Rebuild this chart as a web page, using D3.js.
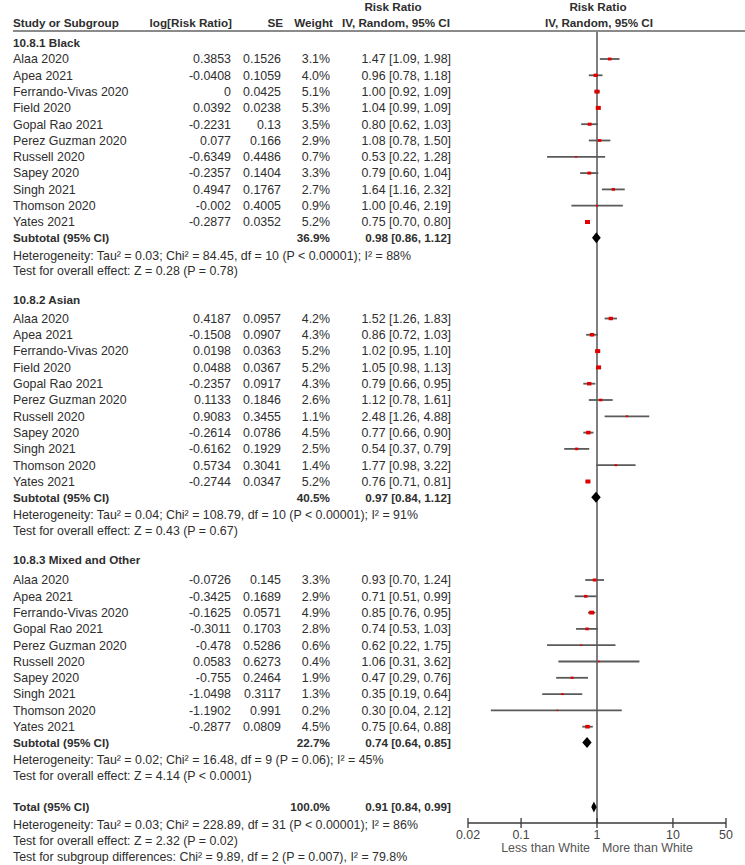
<!DOCTYPE html>
<html><head><meta charset="utf-8">
<script src="https://cdn.jsdelivr.net/npm/d3@7/dist/d3.min.js"></script>
<style>
html,body{margin:0;padding:0;background:#fff;}
svg text{font-family:"Liberation Sans",Arial,sans-serif;font-size:12.4px;fill:#2e2e2e;}
svg text.b{font-weight:bold;font-size:11.7px;}
</style></head>
<body>
<script>
// ---------- DATA ----------
const groupTitles = ["10.8.1 Black", "10.8.2 Asian", "10.8.3 Mixed and Other"];

const blackStudies = ["Alaa 2020","Apea 2021","Ferrando-Vivas 2020","Field 2020","Gopal Rao 2021","Perez Guzman 2020","Russell 2020","Sapey 2020","Singh 2021","Thomson 2020","Yates 2021"];
const blackLogRR = [0.3853,-0.0408,0,0.0392,-0.2231,0.077,-0.6349,-0.2357,0.4947,-0.002,-0.2877];
const blackSE = [0.1526,0.1059,0.0425,0.0238,0.13,0.166,0.4486,0.1404,0.1767,0.4005,0.0352];
const blackWeight = [3.1,4.0,5.1,5.3,3.5,2.9,0.7,3.3,2.7,0.9,5.2];
const blackRR = [1.47,0.96,1.00,1.04,0.80,1.08,0.53,0.79,1.64,1.00,0.75];
const blackLo = [1.09,0.78,0.92,0.99,0.62,0.78,0.22,0.60,1.16,0.46,0.70];
const blackHi = [1.98,1.18,1.09,1.09,1.03,1.50,1.28,1.04,2.32,2.19,0.80];

const asianStudies = ["Alaa 2020","Apea 2021","Ferrando-Vivas 2020","Field 2020","Gopal Rao 2021","Perez Guzman 2020","Russell 2020","Sapey 2020","Singh 2021","Thomson 2020","Yates 2021"];
const asianLogRR = [0.4187,-0.1508,0.0198,0.0488,-0.2357,0.1133,0.9083,-0.2614,-0.6162,0.5734,-0.2744];
const asianSE = [0.0957,0.0907,0.0363,0.0367,0.0917,0.1846,0.3455,0.0786,0.1929,0.3041,0.0347];
const asianWeight = [4.2,4.3,5.2,5.2,4.3,2.6,1.1,4.5,2.5,1.4,5.2];
const asianRR = [1.52,0.86,1.02,1.05,0.79,1.12,2.48,0.77,0.54,1.77,0.76];
const asianLo = [1.26,0.72,0.95,0.98,0.66,0.78,1.26,0.66,0.37,0.98,0.71];
const asianHi = [1.83,1.03,1.10,1.13,0.95,1.61,4.88,0.90,0.79,3.22,0.81];

const mixedStudies = ["Alaa 2020","Apea 2021","Ferrando-Vivas 2020","Gopal Rao 2021","Perez Guzman 2020","Russell 2020","Sapey 2020","Singh 2021","Thomson 2020","Yates 2021"];
const mixedLogRR = [-0.0726,-0.3425,-0.1625,-0.3011,-0.478,0.0583,-0.755,-1.0498,-1.1902,-0.2877];
const mixedSE = [0.145,0.1689,0.0571,0.1703,0.5286,0.6273,0.2464,0.3117,0.991,0.0809];
const mixedWeight = [3.3,2.9,4.9,2.8,0.6,0.4,1.9,1.3,0.2,4.5];
const mixedRR = [0.93,0.71,0.85,0.74,0.62,1.06,0.47,0.35,0.30,0.75];
const mixedLo = [0.70,0.51,0.76,0.53,0.22,0.31,0.29,0.19,0.04,0.64];
const mixedHi = [1.24,0.99,0.95,1.03,1.75,3.62,0.76,0.64,2.12,0.88];

const subtotalWeight = ["36.9%","40.5%","22.7%"];
const subtotalRR = [0.98,0.97,0.74];
const subtotalLo = [0.86,0.84,0.64];
const subtotalHi = [1.12,1.12,0.85];
const subtotalHet = [
  "Heterogeneity: Tau² = 0.03; Chi² = 84.45, df = 10 (P < 0.00001); I² = 88%",
  "Heterogeneity: Tau² = 0.04; Chi² = 108.79, df = 10 (P < 0.00001); I² = 91%",
  "Heterogeneity: Tau² = 0.02; Chi² = 16.48, df = 9 (P = 0.06); I² = 45%"];
const subtotalTest = [
  "Test for overall effect: Z = 0.28 (P = 0.78)",
  "Test for overall effect: Z = 0.43 (P = 0.67)",
  "Test for overall effect: Z = 4.14 (P < 0.0001)"];

const totalWeight = "100.0%";
const totalRR = 0.91, totalLo = 0.84, totalHi = 0.99;
const totalLines = [
  "Heterogeneity: Tau² = 0.03; Chi² = 228.89, df = 31 (P < 0.00001); I² = 86%",
  "Test for overall effect: Z = 2.32 (P = 0.02)",
  "Test for subgroup differences: Chi² = 9.89, df = 2 (P = 0.007), I² = 79.8%"];

const axisTicks = [0.02, 0.1, 1, 10, 50];
const axisTickLabels = ["0.02","0.1","1","10","50"];
const favourLeft = "Less than White", favourRight = "More than White";

// ---------- LAYOUT ----------
const W = 745, H = 865;
const svg = d3.select("body").append("svg").attr("width", W).attr("height", H);

const x = d3.scaleLog().domain([0.02, 50]).range([468, 726]);
const xName = 13, xLog = 231, xSE = 281, xW = 330, xCI = 451;
const step = 16.3;
const groupHeaderY = [43, 300, 560];
const groupFirstY = [59, 318.5, 580];
const axisY = 823;
const fmt2 = d3.format(".2f");
const ciText = (r,l,h) => `${fmt2(r)} [${fmt2(l)}, ${fmt2(h)}]`;

function txt(xp, yc, s, anchor, bold) {
  const t = svg.append("text").attr("x", xp).attr("y", yc + 4.3).text(s)
    .attr("text-anchor", anchor || "start");
  if (bold) t.attr("class", "b");
  return t;
}

// headers
txt(393, 7, "Risk Ratio", "middle", true);
txt(598, 7, "Risk Ratio", "middle", true);
txt(xName, 23, "Study or Subgroup", "start", true);
txt(232, 23, "log[Risk Ratio]", "end", true);
txt(283, 23, "SE", "end", true);
txt(333, 23, "Weight", "end", true);
txt(396, 23, "IV, Random, 95% CI", "middle", true);
txt(599, 23, "IV, Random, 95% CI", "middle", true);

// vertical line of no effect
svg.append("line").attr("x1", x(1)).attr("x2", x(1)).attr("y1", 31).attr("y2", axisY)
  .attr("stroke", "#3a3a3a").attr("stroke-width", 1.3);
// header rule
svg.append("line").attr("x1", xName).attr("x2", W).attr("y1", 31).attr("y2", 31)
  .attr("stroke", "#8a8a8a").attr("stroke-width", 2);

const groups = [
  {studies: blackStudies, lr: blackLogRR, se: blackSE, w: blackWeight, rr: blackRR, lo: blackLo, hi: blackHi},
  {studies: asianStudies, lr: asianLogRR, se: asianSE, w: asianWeight, rr: asianRR, lo: asianLo, hi: asianHi},
  {studies: mixedStudies, lr: mixedLogRR, se: mixedSE, w: mixedWeight, rr: mixedRR, lo: mixedLo, hi: mixedHi}
];

function diamond(yc, r, l, h) {
  const hh = 5.5;
  svg.append("path")
    .attr("d", `M${x(l)},${yc} L${x(r)},${yc-hh} L${x(h)},${yc} L${x(r)},${yc+hh} Z`)
    .attr("fill", "#000");
}

groups.forEach((g, gi) => {
  txt(xName, groupHeaderY[gi], groupTitles[gi], "start", true);
  g.studies.forEach((s, i) => {
    const yc = groupFirstY[gi] + i * step;
    txt(xName, yc, s);
    txt(xLog, yc, String(g.lr[i]), "end");
    txt(xSE, yc, String(g.se[i]), "end");
    txt(xW, yc, g.w[i].toFixed(1) + "%", "end");
    txt(xCI, yc, ciText(g.rr[i], g.lo[i], g.hi[i]), "end");
    svg.append("line").attr("x1", x(g.lo[i])).attr("x2", x(g.hi[i]))
      .attr("y1", yc).attr("y2", yc).attr("stroke", "#5a5a5a").attr("stroke-width", 1.8);
    const sz = 1.6 + g.w[i] * 0.65;
    svg.append("rect").attr("x", x(g.rr[i]) - sz / 2).attr("y", yc - sz * 0.4)
      .attr("width", sz).attr("height", sz * 0.8).attr("fill", "#e00000");
  });
  const ys = groupFirstY[gi] + g.studies.length * step - 0.5;
  txt(xName, ys, "Subtotal (95% CI)", "start", true);
  txt(xW, ys, subtotalWeight[gi], "end", true);
  txt(xCI, ys, ciText(subtotalRR[gi], subtotalLo[gi], subtotalHi[gi]), "end", true);
  diamond(ys, subtotalRR[gi], subtotalLo[gi], subtotalHi[gi]);
  txt(xName, ys + 17.5, subtotalHet[gi]);
  txt(xName, ys + 33, subtotalTest[gi]);
});

// total
const yT = 807;
txt(xName, yT, "Total (95% CI)", "start", true);
txt(xW, yT, totalWeight, "end", true);
txt(xCI, yT, ciText(totalRR, totalLo, totalHi), "end", true);
diamond(yT, totalRR, totalLo, totalHi);
totalLines.forEach((s, i) => txt(xName, 825 + i * 16, s));

// axis
const ax = svg.append("g").attr("transform", `translate(0,${axisY})`);
ax.append("line").attr("x1", x(0.02)).attr("x2", x(50)).attr("stroke", "#3a3a3a").attr("stroke-width", 1.3);
ax.selectAll(".tk").data(axisTicks).enter().append("line")
  .attr("x1", d => x(d)).attr("x2", d => x(d)).attr("y1", -5).attr("y2", 5)
  .attr("stroke", "#3a3a3a").attr("stroke-width", 1.3);
ax.selectAll(".tl").data(axisTicks).enter().append("text")
  .attr("x", d => x(d)).attr("y", 15.5).attr("text-anchor", "middle")
  .style("fill", "#444").text((d, i) => axisTickLabels[i]);
svg.append("text").attr("x", x(1) - 7).attr("y", 851.5).attr("text-anchor", "end").style("fill", "#555").text(favourLeft);
svg.append("text").attr("x", x(1) + 5).attr("y", 851.5).attr("text-anchor", "start").style("fill", "#555").text(favourRight);
</script>
</body></html>
